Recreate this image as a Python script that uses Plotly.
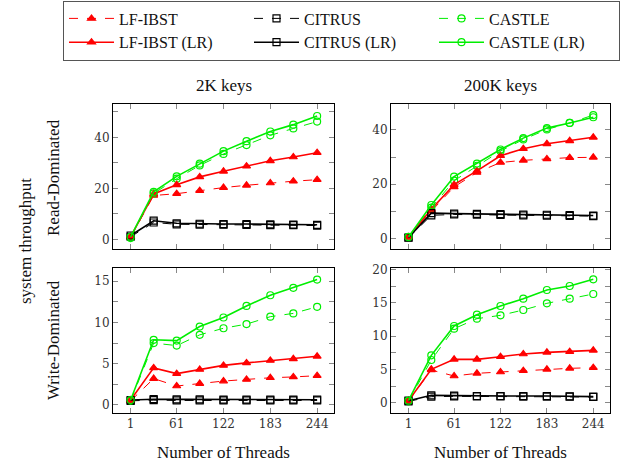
import plotly.graph_objects as go
from plotly.subplots import make_subplots

threads = [1, 31, 61, 91, 122, 152, 183, 213, 244]
tick_vals = [1, 61, 122, 183, 244]
tick_text = ["1", "61", "122", "183", "244"]

# Read-Dominated, 2K keys
rd2k_lfibst    = [0.8, 17.2, 17.9, 19.1, 20.3, 21.2, 22.1, 22.8, 23.4]
rd2k_lfibst_lr = [1.0, 17.8, 21.4, 24.5, 26.7, 28.7, 30.8, 32.3, 34.0]
rd2k_citrus    = [1.0, 6.6, 5.9, 5.8, 5.8, 5.7, 5.6, 5.6, 5.4]
rd2k_citrus_lr = [1.5, 7.3, 6.3, 6.1, 6.0, 6.0, 5.9, 5.8, 5.7]
rd2k_castle    = [0.5, 18.0, 23.8, 29.0, 33.5, 37.0, 40.8, 43.5, 46.2]
rd2k_castle_lr = [1.0, 18.6, 24.7, 29.7, 34.6, 38.5, 42.3, 45.0, 48.4]

# Read-Dominated, 200K keys
rd200k_lfibst    = [0.3, 10.0, 19.0, 24.3, 28.0, 28.8, 29.3, 29.8, 29.9]
rd200k_lfibst_lr = [0.5, 10.7, 19.8, 24.9, 30.5, 33.1, 34.9, 36.0, 37.3]
rd200k_citrus    = [0.2, 8.5, 8.8, 8.7, 8.6, 8.5, 8.4, 8.3, 8.2]
rd200k_citrus_lr = [0.3, 9.3, 9.1, 9.0, 8.9, 8.8, 8.7, 8.6, 8.4]
rd200k_castle    = [0.3, 11.3, 21.3, 26.8, 32.2, 36.5, 40.2, 42.6, 45.5]
rd200k_castle_lr = [0.5, 12.3, 22.8, 27.6, 32.8, 37.0, 40.7, 42.6, 44.7]

# Write-Dominated, 2K keys
wd2k_lfibst    = [0.5, 3.2, 2.3, 2.6, 2.9, 3.1, 3.3, 3.4, 3.55]
wd2k_lfibst_lr = [0.6, 4.5, 3.8, 4.3, 4.8, 5.1, 5.4, 5.6, 5.9]
wd2k_citrus    = [0.5, 0.6, 0.55, 0.55, 0.55, 0.55, 0.55, 0.55, 0.55]
wd2k_citrus_lr = [0.6, 0.7, 0.68, 0.67, 0.66, 0.65, 0.65, 0.64, 0.64]
wd2k_castle    = [0.5, 7.5, 7.2, 8.5, 9.3, 9.8, 10.7, 11.1, 11.9]
wd2k_castle_lr = [0.6, 7.9, 7.8, 9.5, 10.6, 12.0, 13.3, 14.2, 15.2]

# Write-Dominated, 200K keys
wd200k_lfibst    = [0.2, 4.9, 4.0, 4.4, 4.6, 4.8, 5.0, 5.15, 5.25]
wd200k_lfibst_lr = [0.3, 5.0, 6.5, 6.5, 6.9, 7.3, 7.55, 7.65, 7.85]
wd200k_citrus    = [0.2, 0.9, 0.95, 0.95, 0.95, 0.9, 0.9, 0.9, 0.85]
wd200k_citrus_lr = [0.3, 1.1, 1.05, 1.0, 1.0, 1.0, 1.0, 0.95, 0.9]
wd200k_castle    = [0.2, 6.4, 11.1, 12.6, 13.1, 13.9, 14.9, 15.6, 16.3]
wd200k_castle_lr = [0.3, 7.1, 11.5, 13.2, 14.5, 15.6, 16.9, 17.5, 18.5]

panels = [
    (1, 1, [rd2k_lfibst, rd2k_citrus, rd2k_castle, rd2k_lfibst_lr, rd2k_citrus_lr, rd2k_castle_lr]),
    (1, 2, [rd200k_lfibst, rd200k_citrus, rd200k_castle, rd200k_lfibst_lr, rd200k_citrus_lr, rd200k_castle_lr]),
    (2, 1, [wd2k_lfibst, wd2k_citrus, wd2k_castle, wd2k_lfibst_lr, wd2k_citrus_lr, wd2k_castle_lr]),
    (2, 2, [wd200k_lfibst, wd200k_citrus, wd200k_castle, wd200k_lfibst_lr, wd200k_citrus_lr, wd200k_castle_lr]),
]

series_names = ["LF-IBST", "CITRUS", "CASTLE", "LF-IBST (LR)", "CITRUS (LR)", "CASTLE (LR)"]
series_colors = ["#ff0000", "#000000", "#00ee00", "#ff0000", "#000000", "#00ee00"]
series_symbols = ["triangle-up", "square-open", "circle-open", "triangle-up", "square-open", "circle-open"]
series_dash = ["dash", "dash", "dash", "solid", "solid", "solid"]
series_width = [1.0, 1.0, 1.0, 1.6, 1.6, 1.6]

fig = make_subplots(rows=2, cols=2)

for (r, c, data) in panels:
    first = (r == 1 and c == 1)
    for i, ys in enumerate(data):
        fig.add_trace(go.Scatter(
            x=threads, y=ys, mode="lines+markers", name=series_names[i],
            line=dict(color=series_colors[i], dash=series_dash[i], width=series_width[i]),
            marker=dict(symbol=series_symbols[i], size=7, color=series_colors[i],
                        line=dict(color=series_colors[i], width=1.2)),
            showlegend=first, legendgroup=series_names[i],
        ), row=r, col=c)

serif = "Liberation Serif, Times New Roman, Times, serif"
tickfont = dict(family="DejaVu Serif, serif", size=12, color="#333333")

W, H = 621, 465
y_ranges = {(1, 1): [-3.8, 53.1], (1, 2): [-3.95, 49.6], (2, 1): [-0.97, 16.6], (2, 2): [-1.55, 20.2]}
y_dticks = {(1, 1): (20, 10), (1, 2): (20, 10), (2, 1): (5, 2.5), (2, 2): (5, 2.5)}

x_domains = {1: [113 / W, 334 / W], 2: [391 / W, 610 / W]}
y_domains = {1: [1 - 249 / H, 1 - 104 / H], 2: [1 - 413 / H, 1 - 268 / H]}

for r in (1, 2):
    for c in (1, 2):
        fig.update_xaxes(
            range=[-22, 266], tickvals=tick_vals, ticktext=tick_text,
            showticklabels=(r == 2), ticks="inside", ticklen=5, tickcolor="#888888",
            showline=True, linecolor="#000000", linewidth=1, mirror="allticks",
            showgrid=False, zeroline=False, tickfont=tickfont,
            domain=x_domains[c], row=r, col=c)
        major, minor = y_dticks[(r, c)]
        fig.update_yaxes(
            range=y_ranges[(r, c)], dtick=major, tick0=0,
            ticks="inside", ticklen=5, tickcolor="#888888",
            minor=dict(dtick=minor, tick0=0, ticks="inside", ticklen=5, tickcolor="#888888", showgrid=False),
            showline=True, linecolor="#000000", linewidth=1, mirror="allticks",
            showgrid=False, zeroline=False, tickfont=tickfont,
            domain=y_domains[r], row=r, col=c)

txt = dict(family=serif, size=17, color="#111111")
base = dict(xref="paper", yref="paper", showarrow=False, font=txt, xanchor="center", yanchor="middle")
annotations = [
    dict(text="2K keys", x=223.5 / W, y=1 - 85 / H, **base),
    dict(text="200K keys", x=500.5 / W, y=1 - 85 / H, **base),
    dict(text="Read-Dominated", x=53 / W, y=1 - 178 / H, textangle=-90, **base),
    dict(text="Write-Dominated", x=53 / W, y=1 - 340 / H, textangle=-90, **base),
    dict(text="system throughput", x=25 / W, y=1 - 241 / H, textangle=-90, **base),
    dict(text="Number of Threads", x=223.5 / W, y=1 - 452 / H, **base),
    dict(text="Number of Threads", x=500.5 / W, y=1 - 452 / H, **base),
]

fig.update_layout(
    width=W, height=H,
    margin=dict(l=0, r=0, t=0, b=0, autoexpand=False),
    paper_bgcolor="white", plot_bgcolor="white",
    font=dict(family=serif, size=17, color="#111111"),
    annotations=annotations,
    legend=dict(
        orientation="h", xref="container", yref="container",
        x=63 / W, xanchor="left", y=1 - 0.5 / H, yanchor="top",
        entrywidth=125, entrywidthmode="pixels", itemwidth=45,
        bordercolor="#555555", borderwidth=1, bgcolor="white",
        font=dict(family=serif, size=16, color="#111111"),
        tracegroupgap=0, traceorder="normal",
    ),
)

fig.write_html("out.html", config={"displayModeBar": False},
               post_script="document.body.style.margin='0';")
